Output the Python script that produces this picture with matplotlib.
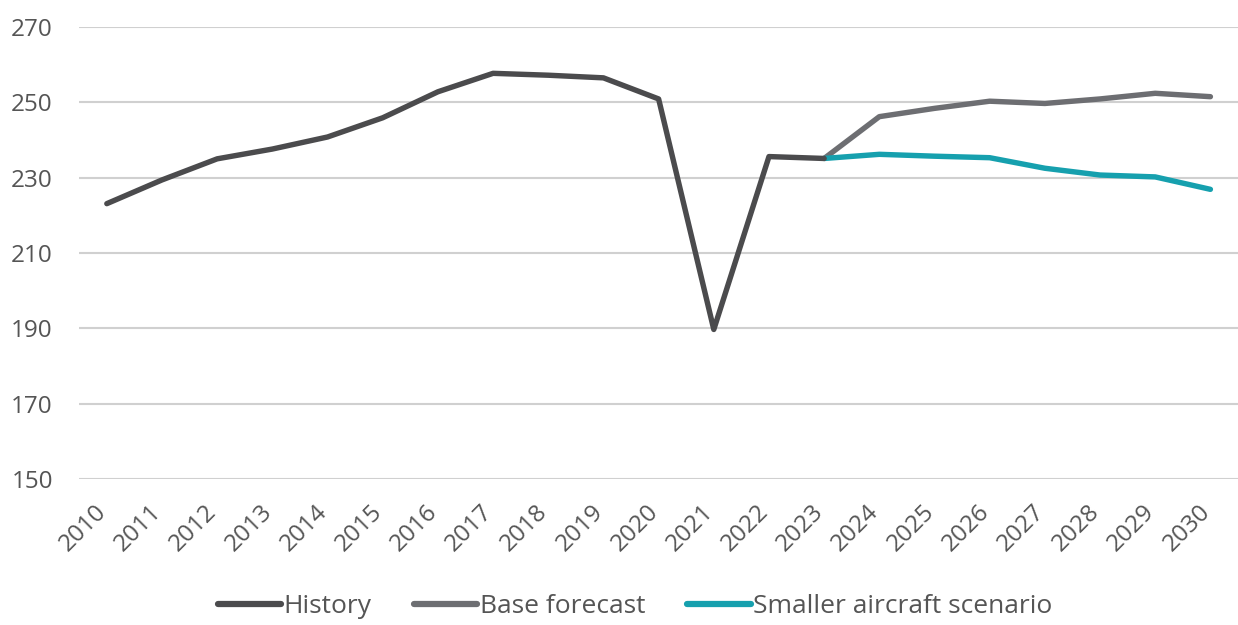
import matplotlib
matplotlib.use("Agg")
import matplotlib.pyplot as plt
from matplotlib.transforms import ScaledTranslation

years = [str(y) for y in range(2010, 2031)]

history = [223.1, 229.4, 235.0, 237.6, 240.8, 245.9, 252.8, 257.7, 257.2,
           256.5, 250.9, 189.7, 235.6, 235.1]
base_forecast = [235.1, 246.2, 248.4, 250.3, 249.7, 250.9, 252.4, 251.5]
smaller_aircraft = [235.1, 236.2, 235.7, 235.3, 232.5, 230.7, 230.2, 226.9]

y_ticks = [150, 170, 190, 210, 230, 250, 270]

plt.rcParams['font.family'] = ['Open Sans', 'DejaVu Sans']

fig = plt.figure(figsize=(12.38, 6.25), dpi=100)
ax = fig.add_axes([0.064, 0.2336, 0.936, 0.7232])

x_hist = list(range(len(history)))
x_fc = list(range(len(history) - 1, len(years)))

line_kw = dict(lw=3.9, solid_capstyle='round', solid_joinstyle='round')
ax.plot(x_fc, base_forecast, color='#6d6e72', label='Base forecast',
        zorder=3, **line_kw)
ax.plot(x_fc, smaller_aircraft, color='#16a0ae',
        label='Smaller aircraft scenario', zorder=4, **line_kw)
ax.plot(x_hist, history, color='#4b4b4d', label='History', zorder=5, **line_kw)

ax.set_xlim(-0.5, len(years) - 0.5)
ax.set_ylim(150, 270)
ax.set_yticks(y_ticks)
ax.set_xticks(range(len(years)))
ax.set_xticklabels(years, rotation=45, ha='right', va='center',
                   rotation_mode='anchor')
ax.tick_params(axis='both', length=0, labelsize=17.5, colors='#555555')
ax.tick_params(axis='y', pad=19)
ax.tick_params(axis='x', pad=21)
shift = ScaledTranslation(-4 / 100, 0, fig.dpi_scale_trans)
for lbl in ax.get_xticklabels():
    lbl.set_transform(lbl.get_transform() + shift)

ax.grid(axis='y', color='#d0d0d0', lw=1.5)
ax.set_axisbelow(True)
for s in ax.spines.values():
    s.set_visible(False)

handles, labels = ax.get_legend_handles_labels()
order = [2, 0, 1]
leg = fig.legend([handles[i] for i in order], [labels[i] for i in order],
                 loc='center', bbox_to_anchor=(0.513, 0.029), ncol=3,
                 frameon=False, fontsize=19, handlelength=2.4,
                 handletextpad=0.1, columnspacing=1.6)
for t in leg.get_texts():
    t.set_color('#555555')
for h in leg.legend_handles:
    h.set_linewidth(4.5)

fig.savefig('out.png', dpi=100)
